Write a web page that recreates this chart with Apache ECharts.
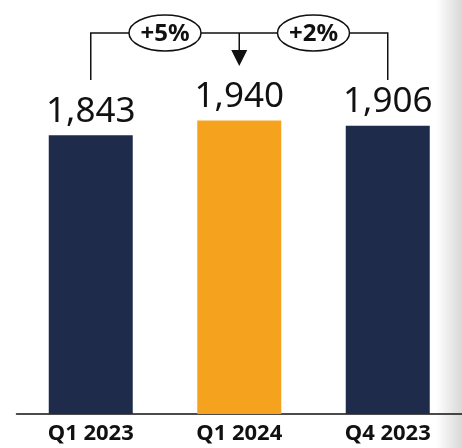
<!DOCTYPE html>
<html>
<head>
<meta charset="utf-8">
<script src="https://cdn.jsdelivr.net/npm/echarts@6/dist/echarts.min.js"></script>
<style>
  html, body { margin: 0; padding: 0; background: #fff; }
  #chart { width: 462px; height: 448px; }
</style>
</head>
<body>
<div id="chart"></div>
<script>
const categories = ["Q1 2023", "Q1 2024", "Q4 2023"]
const values = [1843, 1940, 1906]
const barColors = ["#1e2b4b", "#f5a31f", "#1e2b4b"]
const changeLabels = ["+5%", "+2%"]

const myChart = echarts.init(document.getElementById("chart"))

const option = {
  animation: false,
  grid: { left: 16.5, width: 453, top: 51, bottom: 34 },
  xAxis: {
    type: "category",
    data: categories,
    axisTick: { show: false },
    axisLine: { lineStyle: { color: "#111", width: 1.5 } },
    axisLabel: { color: "#111", fontFamily: "Noto Sans", fontWeight: "bold", fontSize: 22, margin: 9 }
  },
  yAxis: { type: "value", min: 0, max: 2400, show: false, splitLine: { show: false } },
  series: [{
    type: "bar",
    barWidth: 84,
    data: values.map((v, i) => ({ value: v, itemStyle: { color: barColors[i] } })),
    label: {
      show: true,
      position: "top",
      distance: 6,
      color: "#111",
      fontFamily: "Noto Sans",
      fontWeight: "normal",
      fontSize: 35,
      formatter: (p) => p.value.toLocaleString("en-US")
    }
  }]
}
myChart.setOption(option)

// bracket with change bubbles and arrow, placed from bar centres
const cx = categories.map((c, i) => myChart.convertToPixel({ xAxisIndex: 0 }, i))
const lineY = 33, dropY = 80
const stroke = { stroke: "#111", lineWidth: 1.5, fill: null }
const graphics = [
  { type: "rect", z: -10, shape: { x: 436, y: 0, width: 26, height: 448 },
    style: { fill: new echarts.graphic.LinearGradient(0, 0, 1, 0, [{ offset: 0, color: "#ffffff" }, { offset: 1, color: "#d8d8d8" }]) } },
  { type: "polyline", shape: { points: [[cx[0], dropY], [cx[0], lineY], [cx[2], lineY], [cx[2], dropY]] }, style: stroke },
  { type: "line", shape: { x1: cx[1], y1: lineY, x2: cx[1], y2: 52 }, style: stroke },
  { type: "polygon", shape: { points: [[cx[1] - 8, 50], [cx[1] + 8, 50], [cx[1], 66]] }, style: { fill: "#111" } }
]
changeLabels.forEach((t, i) => {
  const x = (cx[i] + cx[i + 1]) / 2
  graphics.push({ type: "ellipse", z: 5, shape: { cx: x, cy: lineY, rx: 36, ry: 18 }, style: { fill: "#fff", stroke: "#111", lineWidth: 1.5 } })
  graphics.push({ type: "text", z: 6, x: x, y: lineY + 1,
    style: { text: t, fill: "#111", fontFamily: "Noto Sans", fontWeight: "bold", fontSize: 24, align: "center", verticalAlign: "middle" } })
})
myChart.setOption({ graphic: graphics })
</script>
</body>
</html>
